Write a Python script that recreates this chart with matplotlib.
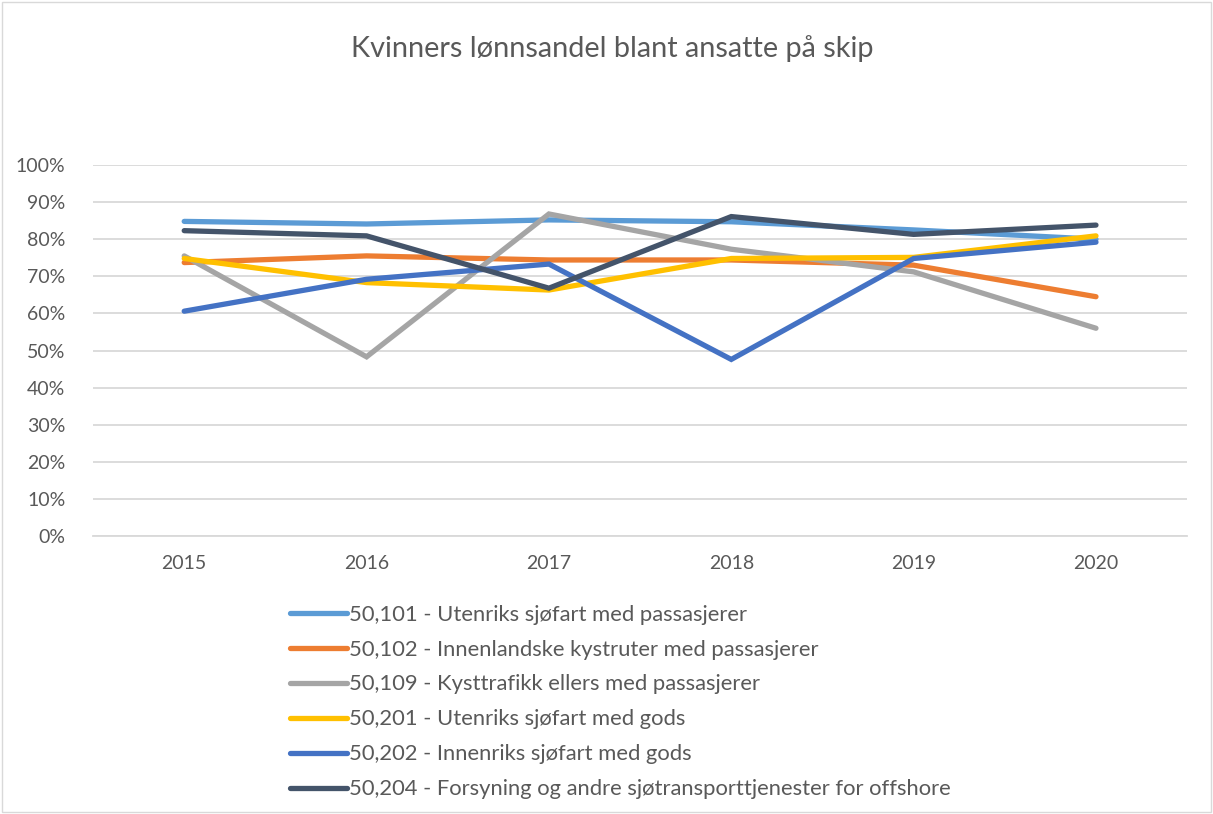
import matplotlib.pyplot as plt
from matplotlib.patches import Rectangle
from matplotlib.ticker import PercentFormatter

years = ["2015", "2016", "2017", "2018", "2019", "2020"]
labels = [
    "50,101 - Utenriks sjøfart med passasjerer",
    "50,102 - Innenlandske kystruter med passasjerer",
    "50,109 - Kysttrafikk ellers med passasjerer",
    "50,201 - Utenriks sjøfart med gods",
    "50,202 - Innenriks sjøfart med gods",
    "50,204 - Forsyning og andre sjøtransporttjenester for offshore",
]
s50101 = [0.848, 0.841, 0.852, 0.847, 0.825, 0.800]
s50102 = [0.737, 0.755, 0.744, 0.744, 0.730, 0.645]
s50109 = [0.755, 0.483, 0.868, 0.773, 0.712, 0.560]
s50201 = [0.748, 0.683, 0.663, 0.748, 0.751, 0.809]
s50202 = [0.606, 0.692, 0.733, 0.476, 0.748, 0.792]
s50204 = [0.823, 0.809, 0.668, 0.861, 0.813, 0.838]
series = [s50101, s50102, s50109, s50201, s50202, s50204]
colors = ["#5B9BD5", "#ED7D31", "#A5A5A5", "#FFC000", "#4472C4", "#44546A"]

plt.rcParams['font.family'] = ['Lato', 'DejaVu Sans']
txt = "#595959"

fig = plt.figure(figsize=(12.13, 8.14), dpi=100)
ax = fig.add_axes([0.0767, 0.3415, 0.902, 0.4558])

x = range(len(years))
for vals, lab, c in zip(series, labels, colors):
    ax.plot(x, vals, color=c, lw=3.8, label=lab, solid_capstyle='round',
            solid_joinstyle='miter')

ax.set_ylim(0, 1)
ax.set_xlim(-0.5, 5.5)
ax.set_yticks([i / 10 for i in range(11)])
ax.yaxis.set_major_formatter(PercentFormatter(1.0, decimals=0))
ax.set_xticks(list(x))
ax.set_xticklabels(years)
ax.grid(axis='y', color="#D9D9D9", lw=1.3)
ax.set_axisbelow(True)
for sp in ["top", "right", "left"]:
    ax.spines[sp].set_visible(False)
ax.spines["bottom"].set_color("#D9D9D9")
ax.spines["bottom"].set_linewidth(1.3)
ax.tick_params(length=0, labelsize=14, colors=txt)
ax.tick_params(axis='y', pad=20)
ax.tick_params(axis='x', pad=14)

fig.text(0.505, 0.94, "Kvinners lønnsandel blant ansatte på skip",
         ha='center', va='center', fontsize=20.8, color=txt)

leg = fig.legend(loc='upper left', bbox_to_anchor=(0.232, 0.268), frameon=False,
                 fontsize=15.8, labelcolor=txt, handlelength=2.6, handletextpad=0.1,
                 labelspacing=0.68, borderaxespad=0)

fig.patches.append(Rectangle((0.002, 0.002), 0.996, 0.996, transform=fig.transFigure,
                             fill=False, edgecolor="#D9D9D9", lw=1))

fig.savefig("out.png", dpi=100)
